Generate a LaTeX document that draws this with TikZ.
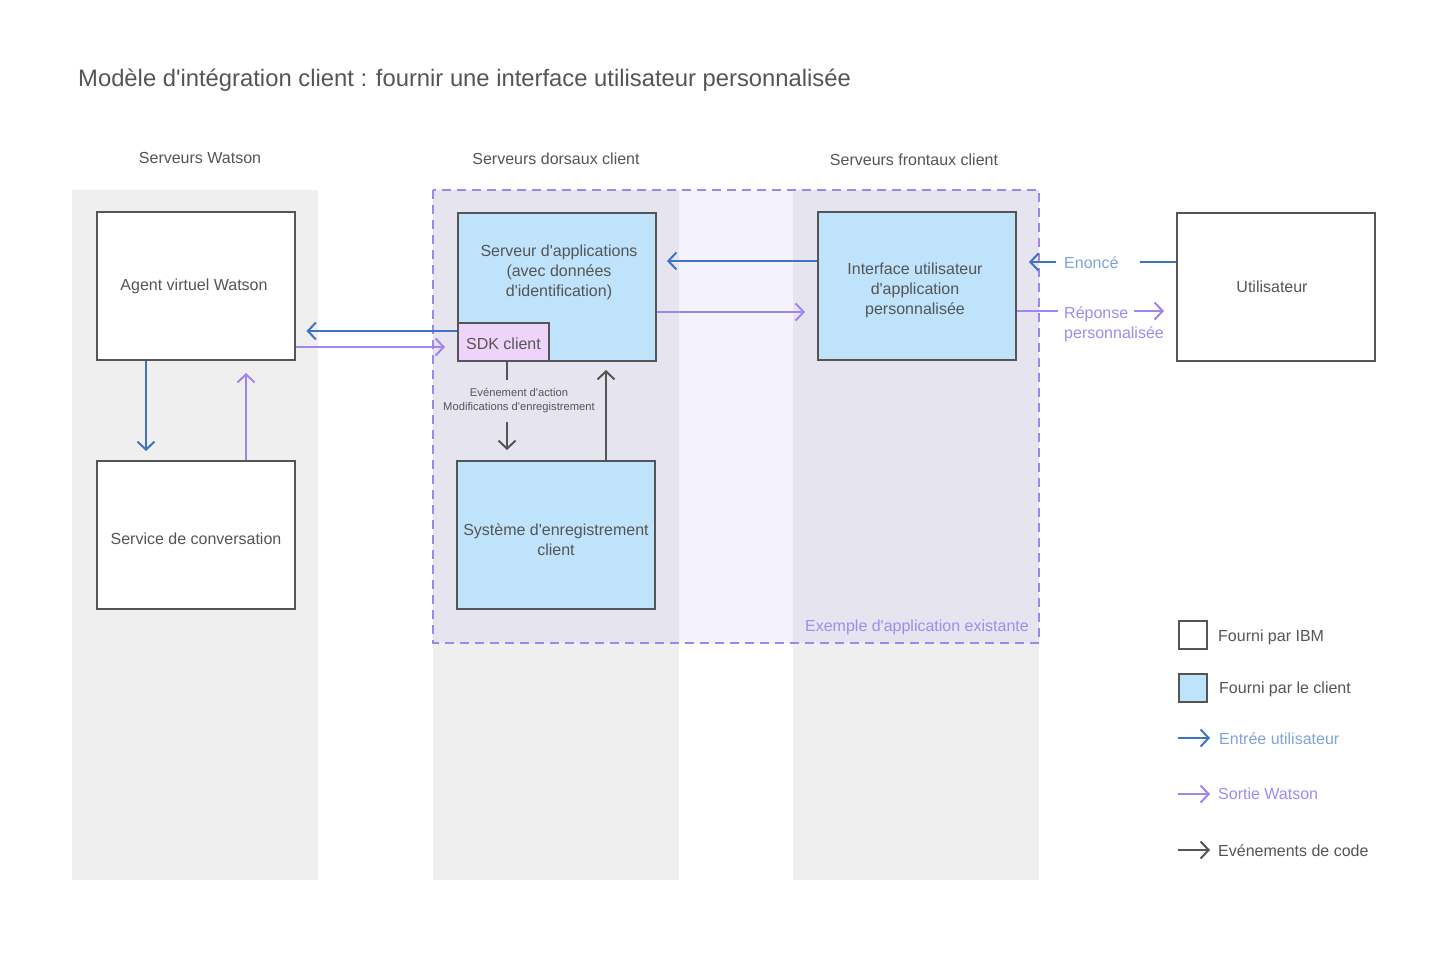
\documentclass[tikz,border=0pt]{standalone}
\usepackage{fontspec}
\newfontfamily\myfont{Liberation Sans}
\usetikzlibrary{arrows.meta,calc}
\definecolor{colgray}{HTML}{EFEFEF}
\definecolor{lavin}{HTML}{E6E4EF}
\definecolor{lavgap}{HTML}{F4F2FC}
\definecolor{dashpur}{HTML}{A085F0}
\definecolor{boxborder}{HTML}{555555}
\definecolor{txtgray}{HTML}{555555}
\definecolor{cliblue}{HTML}{BEE3FB}
\definecolor{sdkpink}{HTML}{EED4FA}
\definecolor{inblue}{HTML}{3F74C0}
\definecolor{inbluetxt}{HTML}{7FA3DB}
\definecolor{outpur}{HTML}{A085F0}
\definecolor{outpurtxt}{HTML}{A08CEF}
\definecolor{codegray}{HTML}{555555}
\newcommand\lblfont{\myfont\fontsize{16}{20}\selectfont}
\tikzset{
  boxstyle/.style={draw=boxborder,line width=2pt,minimum width=198pt,minimum height=148pt,inner sep=0pt,align=center,text=txtgray,font=\lblfont},
  ibmbox/.style={boxstyle,fill=white},
  clibox/.style={boxstyle,fill=cliblue},
  chev/.style={-{Straight Barb[length=8pt,width=17pt,line width=2pt]}},
  inarrow/.style={draw=inblue,line width=2pt},
  outarrow/.style={draw=outpur,line width=2pt},
  codearrow/.style={draw=codegray,line width=2pt},
  lbl/.style={text=txtgray,font=\lblfont,inner sep=0pt},
}
\begin{document}
\begin{tikzpicture}[x=1pt,y=-1pt]
\useasboundingbox (0,0) rectangle (1443,963);
\fill[white] (0,0) rectangle (1443,963);
% columns
\fill[colgray] (72,190) rectangle (318,880);
\fill[colgray] (433,190) rectangle (679,880);
\fill[colgray] (793,190) rectangle (1039,880);
% existing application zone
\fill[lavgap] (433,190) rectangle (1039,643);
\fill[lavin] (433,190) rectangle (679,643);
\fill[lavin] (793,190) rectangle (1039,643);
\draw[dashpur,line width=2pt,dash pattern=on 9pt off 6pt] (433,190) rectangle (1039,643);
% title and column labels
\node[anchor=west,text=txtgray,font=\myfont\fontsize{23.8}{28}\selectfont,inner sep=0pt] (title) at (78,80.5) {Modèle d'intégration client : fournir une interface utilisateur personnalisée};
\node[lbl] (colw) at (200,158) {Serveurs Watson};
\node[lbl] (colb) at (556,159) {Serveurs dorsaux client};
\node[lbl] (colf) at (914,160) {Serveurs frontaux client};
\node[anchor=east,inner sep=0pt,text=outpurtxt,font=\lblfont] (exist) at (1029,627.5) {Exemple d'application existante};
% boxes
\node[ibmbox] (agent) at (195.5,286) {};
\node[lbl] (agenttxt) at (194,286.5) {Agent virtuel Watson};
\node[ibmbox] (conv) at (196,535) {};
\node[lbl] (convtxt) at (196,539) {Service de conversation};
\node[clibox] (app) at (557,287) {};
\node[lbl,align=center] (apptxt) at (559,272.5) {Serveur d'applications\\(avec données\\d'identification)};
\node[draw=boxborder,line width=2pt,fill=sdkpink,minimum width=91pt,minimum height=38pt,inner sep=0pt,text=txtgray,font=\lblfont] (sdk) at (503.5,342) {};
\node[lbl] (sdktxt) at (503.5,343.5) {SDK client};
\node[clibox] (sys) at (556,535) {};
\node[lbl,align=center] (systxt) at (556,539.5) {Système d'enregistrement\\client};
\node[clibox] (ui) at (917,286) {};
\node[lbl,align=center] (uitxt) at (915,290.5) {Interface utilisateur\\d'application\\personnalisée};
\node[ibmbox] (user) at (1276,287) {};
\node[lbl] (usertxt) at (1272,286.5) {Utilisateur};
% arrows left
\draw[inarrow,chev] (sdk.west |- 0,331) -- ($(agent.east |- 0,331)+(11,0)$);
\draw[outarrow,chev] (agent.east |- 0,347) -- ($(sdk.west |- 0,347)+(-12,0)$);
\draw[inarrow,chev] (agent.south -| 146,0) -- ($(conv.north -| 146,0)+(0,-9)$);
\draw[outarrow,chev] (conv.north -| 246,0) -- ($(agent.south -| 246,0)+(0,12)$);
% code events
\draw[codearrow] (sdk.south -| 507,0) -- (507,380);
\node[text=txtgray,font=\myfont\fontsize{11.2}{14}\selectfont,align=center,inner sep=0pt] (evt) at (519,401) {Evénement d'action\\Modifications d'enregistrement};
\draw[codearrow,chev] (507,422) -- ($(sys.north -| 507,0)+(0,-10)$);
\draw[codearrow,chev] (sys.north -| 606,0) -- ($(app.south -| 606,0)+(0,8)$);
% middle arrows
\draw[inarrow,chev] (ui.west |- 0,261) -- ($(app.east |- 0,261)+(10,0)$);
\draw[outarrow,chev] (app.east |- 0,312) -- ($(ui.west |- 0,312)+(-12,0)$);
% user arrows
\draw[inarrow] (user.west |- 0,262) -- (1140,262);
\node[anchor=west,inner sep=0pt,text=inbluetxt,font=\lblfont] (enonce) at (1064,262.5) {Enoncé};
\draw[inarrow,chev] (1056,262) -- ($(ui.east |- 0,262)+(12,0)$);
\draw[outarrow] (ui.east |- 0,311) -- (1058,311);
\node[anchor=west,inner sep=0pt,text=outpurtxt,font=\lblfont,align=left] (rep) at (1064,324) {Réponse\\personnalisée};
\draw[outarrow,chev] (1134,311) -- ($(user.west |- 0,311)+(-12,0)$);
% legend
\node[draw=boxborder,line width=2pt,fill=white,minimum width=28pt,minimum height=28pt,inner sep=0pt] (legibm) at (1193,635) {};
\node[lbl,anchor=west] (legibmt) at (1218,637) {Fourni par IBM};
\node[draw=boxborder,line width=2pt,fill=cliblue,minimum width=28pt,minimum height=28pt,inner sep=0pt] (legcli) at (1193,688) {};
\node[lbl,anchor=west] (legclit) at (1219,689) {Fourni par le client};
\coordinate (l1a) at (1178,738); \coordinate (l1b) at (1210,738);
\draw[inarrow,chev] (l1a) -- (l1b);
\node[anchor=west,inner sep=0pt,text=inbluetxt,font=\lblfont] (leg1) at (1219,738.5) {Entrée utilisateur};
\coordinate (l2a) at (1178,794); \coordinate (l2b) at (1210,794);
\draw[outarrow,chev] (l2a) -- (l2b);
\node[anchor=west,inner sep=0pt,text=outpurtxt,font=\lblfont] (leg2) at (1218,793.5) {Sortie Watson};
\coordinate (l3a) at (1178,850); \coordinate (l3b) at (1210,850);
\draw[codearrow,chev] (l3a) -- (l3b);
\node[lbl,anchor=west] (leg3) at (1218,850.5) {Evénements de code};
\end{tikzpicture}
\end{document}
